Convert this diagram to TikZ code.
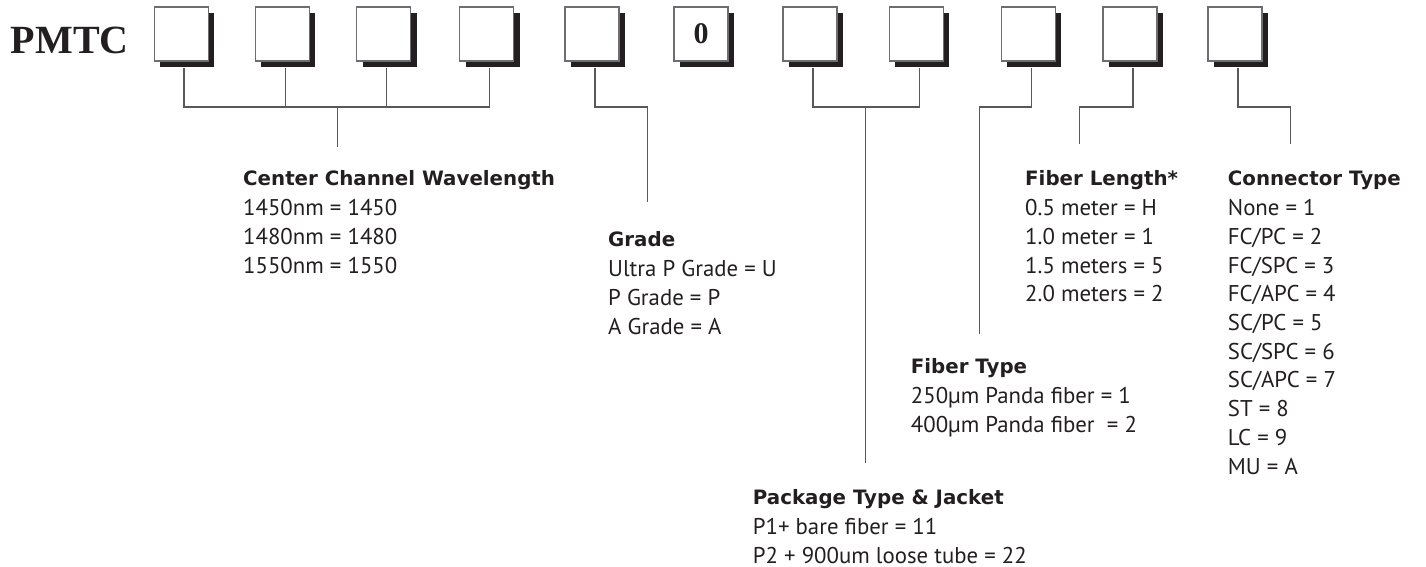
\documentclass[tikz,border=0pt]{standalone}
\usepackage{fontspec}
\usetikzlibrary{shadows}
\newfontfamily\bodyfont{PT Sans}
\newfontfamily\ttlfont{DejaVu Sans}
\newfontfamily\serifbold{Liberation Serif}
\definecolor{ink}{HTML}{231F20}
\definecolor{linegray}{HTML}{58595B}
\definecolor{boxgray}{HTML}{6D6E71}
\begin{document}
\begin{tikzpicture}[x=1pt,y=-1pt,
 digitbox/.style={draw=boxgray, line width=1.3pt, fill=white, minimum width=54pt, minimum height=54pt, inner sep=0pt,
   drop shadow={shadow xshift=6pt, shadow yshift=-6pt, fill=ink, opacity=1}},
 conn/.style={draw=linegray, line width=1.5pt},
 ttl/.style={anchor=base west, inner sep=0pt, text=ink, font=\ttlfont\bfseries\fontsize{19.8}{24}\selectfont},
 bdy/.style={anchor=base west, inner sep=0pt, text=ink, font=\bodyfont\fontsize{22.8}{27}\selectfont},
 pm/.style={anchor=base west, inner sep=0pt, text=ink, font=\serifbold\bfseries\fontsize{40}{44}\selectfont},
]
\useasboundingbox (0,0) rectangle (1426,567);

\node[pm] (pmtc) at (10.7,53.6) {PMTC};

\foreach \cx [count=\i] in {181.2,282.4,383.5,486.5,592,701,810,916.3,1028.3,1130,1235}{
  \ifnum\i=6
    \node[digitbox, font=\serifbold\bfseries\fontsize{30}{32}\selectfont, text=ink] (b\i) at (\cx,34) {\raisebox{-4.5pt}{0}};
  \else
    \node[digitbox] (b\i) at (\cx,34) {};
  \fi
  \coordinate (s\i) at ([xshift=3pt,yshift=-6pt]b\i.south);
}

% Center channel wavelength
\coordinate (ccwbar) at (337.7,107);
\coordinate (ccwend) at (337.7,147);
\draw[conn] (s1) |- (s4 |- ccwbar) -- (s4);
\draw[conn] (s2) -- (s2 |- ccwbar);
\draw[conn] (s3) -- (s3 |- ccwbar);
\draw[conn] (ccwbar) -- (ccwend);

% Grade
\coordinate (grc) at (647.7,107);
\coordinate (gre) at (647.7,202);
\draw[conn] (s5) |- (grc) -- (gre);

% Package
\coordinate (pkbar) at (865.3,107);
\coordinate (pke) at (865.3,463);
\draw[conn] (s7) |- (s8 |- pkbar) -- (s8);
\draw[conn] (pkbar) -- (pke);

% Fiber type
\coordinate (ftc) at (979.3,107);
\coordinate (fte) at (979.3,334);
\draw[conn] (s9) |- (ftc) -- (fte);

% Fiber length
\coordinate (flc) at (1079.3,107);
\coordinate (fle) at (1079.3,144);
\draw[conn] (s10) |- (flc) -- (fle);

% Connector
\coordinate (ctc) at (1290.7,107);
\coordinate (cte) at (1290.7,144);
\draw[conn] (s11) |- (ctc) -- (cte);

% Text blocks
\node[ttl] (ccwt) at (243,185) {Center Channel Wavelength};
\foreach \s [count=\i] in {{1450nm = 1450},{1480nm = 1480},{1550nm = 1550}}
  \node[bdy] (ccw\i) at (243,{215.7+28.7*(\i-1)}) {\s};

\node[ttl] (grt) at (608,246) {Grade};
\foreach \s [count=\i] in {{Ultra P Grade = U},{P Grade = P},{A Grade = A}}
  \node[bdy] (gr\i) at (608,{276.7+28.7*(\i-1)}) {\s};

\node[ttl] (ftt) at (910.7,373) {Fiber Type};
\foreach \s [count=\i] in {{250µm Panda fiber = 1},{400µm Panda fiber\ \ = 2}}
  \node[bdy] (ft\i) at (910.7,{403.7+28.7*(\i-1)}) {\s};

\node[ttl] (pkt) at (752.7,504) {Package Type \& Jacket};
\foreach \s [count=\i] in {{P1+ bare fiber = 11},{P2 + 900um loose tube = 22}}
  \node[bdy] (pk\i) at (752.7,{534.7+28.7*(\i-1)}) {\s};

\node[ttl] (flt) at (1025,185) {Fiber Length*};
\foreach \s [count=\i] in {{0.5 meter = H},{1.0 meter = 1},{1.5 meters = 5},{2.0 meters = 2}}
  \node[bdy] (fl\i) at (1025,{215.7+28.7*(\i-1)}) {\s};

\node[ttl] (ctt) at (1227.7,185) {Connector Type};
\foreach \s [count=\i] in {{None = 1},{FC/PC = 2},{FC/SPC = 3},{FC/APC = 4},{SC/PC = 5},{SC/SPC = 6},{SC/APC = 7},{ST = 8},{LC = 9},{MU = A}}
  \node[bdy] (ct\i) at (1227.7,{215.7+28.7*(\i-1)}) {\s};
\end{tikzpicture}
\end{document}
